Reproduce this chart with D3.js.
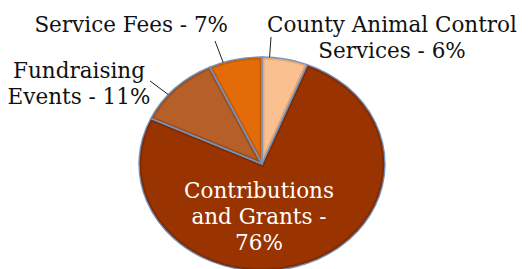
<!DOCTYPE html>
<html>
<head>
<meta charset="utf-8">
<script src="https://cdn.jsdelivr.net/npm/d3@7"></script>
<style>
  body { margin: 0; background: #fff; }
  svg text { font-family: "DejaVu Serif", serif; font-size: 21.5px; }
</style>
</head>
<body>
<div id="pie_chart"></div>
<script>
// data, clockwise from 12 o'clock
var categories = ["County Animal Control Services", "Contributions and Grants", "Fundraising Events", "Service Fees"];
var shares = [6, 76, 11, 7];
var labelLines = [
  ["County Animal Control", "Services - 6%"],
  ["Contributions", "and Grants -", "76%"],
  ["Fundraising", "Events - 11%"],
  ["Service Fees - 7%"]
];
var fills = ["#fac08f", "#993300", "#b65f28", "#e36c09"];
var edges = ["#e8a874", "#832b00", "#9c4f1f", "#c85c06"];

var width = 529, height = 269;
var cx = 262, cy = 164, rx = 123, ry = 107;

// label layout: anchor x, first baseline, text-anchor, colour, leader end
var labelPos = [
  {x: 392, y: 32, anchor: "middle", color: "#111", leader: [271, 37]},
  {x: 259, y: 198, anchor: "middle", color: "#fff", leader: null},
  {x: 79, y: 78, anchor: "middle", color: "#111", leader: [150, 81]},
  {x: 228, y: 32, anchor: "end", color: "#111", leader: [215, 41]}
];

var svg = d3.select("#pie_chart").append("svg")
    .attr("width", width)
    .attr("height", height);

var pie = d3.pie().sort(null).value(function(d) { return d; });
var arcs = pie(shares);

var arc = d3.arc().innerRadius(0).outerRadius(ry);

// the pie is drawn as a circle and stretched into an ellipse
var g = svg.append("g")
    .attr("transform", "translate(" + cx + "," + cy + ") scale(" + (rx / ry) + ",1)");

var defs = svg.append("defs");
arcs.forEach(function(d, i) {
  defs.append("clipPath").attr("id", "clip" + i)
    .append("path").attr("d", arc(d));
});

// slices with a darker inner edge
g.selectAll("path.slice")
  .data(arcs)
  .enter().append("path")
    .attr("class", "slice")
    .attr("d", arc)
    .attr("fill", function(d, i) { return fills[i]; })
    .attr("stroke", function(d, i) { return edges[i]; })
    .attr("stroke-width", 5)
    .attr("vector-effect", "non-scaling-stroke")
    .attr("clip-path", function(d, i) { return "url(#clip" + i + ")"; });

// thin bluish outline
g.selectAll("path.outline")
  .data(arcs)
  .enter().append("path")
    .attr("class", "outline")
    .attr("d", arc)
    .attr("fill", "none")
    .attr("stroke", "#7294c4")
    .attr("stroke-width", 1.3)
    .attr("vector-effect", "non-scaling-stroke");

// leader lines: from the label to the rim, pointing at the label
labelPos.forEach(function(p, i) {
  if (!p.leader) return;
  var nx = (p.leader[0] - cx) / rx, ny = (p.leader[1] - cy) / ry;
  var a = Math.atan2(nx, -ny);
  svg.append("line")
    .attr("x1", p.leader[0])
    .attr("y1", p.leader[1])
    .attr("x2", cx + rx * Math.sin(a))
    .attr("y2", cy - ry * Math.cos(a))
    .attr("stroke", "#222")
    .attr("stroke-width", 1);
});

// labels
labelLines.forEach(function(lines, i) {
  var p = labelPos[i];
  var t = svg.append("text")
    .attr("text-anchor", p.anchor)
    .attr("fill", p.color);
  lines.forEach(function(s, j) {
    t.append("tspan")
      .attr("x", p.x)
      .attr("y", p.y + j * 26)
      .text(s);
  });
});
</script>
</body>
</html>
